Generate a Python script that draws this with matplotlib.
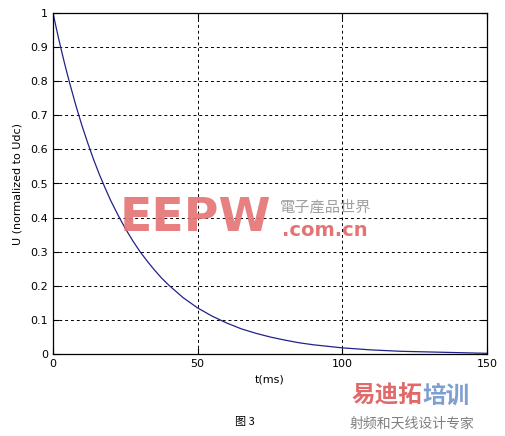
import matplotlib
matplotlib.use('Agg')
import matplotlib.pyplot as plt
import numpy as np

# values
t_ms = [0, 1, 2, 3, 4, 5, 6, 8, 10, 12, 14, 16, 18, 20, 22.5, 25, 27.5, 30, 32.5, 35, 37.5, 40,
        45, 50, 55, 60, 65, 70, 75, 80, 85, 90, 100, 110, 120, 130, 140, 150]
u_norm = [1.0, 0.961, 0.923, 0.887, 0.852, 0.819, 0.787, 0.726, 0.670, 0.619, 0.571, 0.527,
          0.487, 0.449, 0.407, 0.368, 0.333, 0.301, 0.273, 0.247, 0.223, 0.202,
          0.165, 0.135, 0.111, 0.091, 0.074, 0.061, 0.050, 0.041, 0.033, 0.027,
          0.018, 0.012, 0.008, 0.006, 0.004, 0.002]
x_ticks = [0, 50, 100, 150]
y_ticks = [0, 0.1, 0.2, 0.3, 0.4, 0.5, 0.6, 0.7, 0.8, 0.9, 1]
y_ticklabels = ['0', '0.1', '0.2', '0.3', '0.4', '0.5', '0.6', '0.7', '0.8', '0.9', '1']

plt.rcParams['font.family'] = ['DejaVu Sans', 'Noto Sans CJK SC']

fig = plt.figure(figsize=(5.06, 4.36), dpi=100)
ax = fig.add_axes([53/506, 1-354/436, 434/506, 341/436])
ax.plot(t_ms, u_norm, color='#22228a', lw=0.9)
ax.set_xlim(0, 150)
ax.set_ylim(0, 1)
ax.set_xticks(x_ticks)
ax.set_yticks(y_ticks)
ax.set_yticklabels(y_ticklabels)
ax.tick_params(direction='in', labelsize=8, length=4, width=0.8, top=True, right=True)
ax.grid(True, color='black', linestyle=(0, (3, 3)), linewidth=0.7)
for s in ax.spines.values():
    s.set_linewidth(0.9)
ax.set_xlabel('t(ms)', fontsize=8, labelpad=4)
ax.set_ylabel('U (normalized to Udc)', fontsize=8, labelpad=6)

# caption
fig.text(245/506, 1-422/436, '图 3', fontsize=8, ha='center', va='center',
         family=['Noto Sans CJK SC', 'DejaVu Sans'])

# watermarks
fig.text(120/506, 1-218/436, 'EEPW', fontsize=34, fontweight='bold', color='#e57373',
         ha='left', va='center', alpha=0.9)
fig.text(280/506, 1-207/436, '電子產品世界', fontsize=11, color='#a0a0a0',
         ha='left', va='center', family=['Noto Sans CJK TC', 'DejaVu Sans'])
fig.text(282/506, 1-230/436, '.com.cn', fontsize=14, fontweight='bold', color='#e57373',
         ha='left', va='center')
fig.text(352/506, 1-396/436, '易迪拓', fontsize=17, fontweight='bold', color='#e06a6a',
         ha='left', va='center', family=['Noto Sans CJK SC', 'DejaVu Sans'])
fig.text(422/506, 1-396/436, '培训', fontsize=17, fontweight='bold', color='#7f9fd0',
         ha='left', va='center', family=['Noto Sans CJK SC', 'DejaVu Sans'])
fig.text(350/506, 1-424/436, '射频和天线设计专家', fontsize=10, color='#808080',
         ha='left', va='center', family=['Noto Sans CJK SC', 'DejaVu Sans'])

fig.savefig('out.png', dpi=100)
